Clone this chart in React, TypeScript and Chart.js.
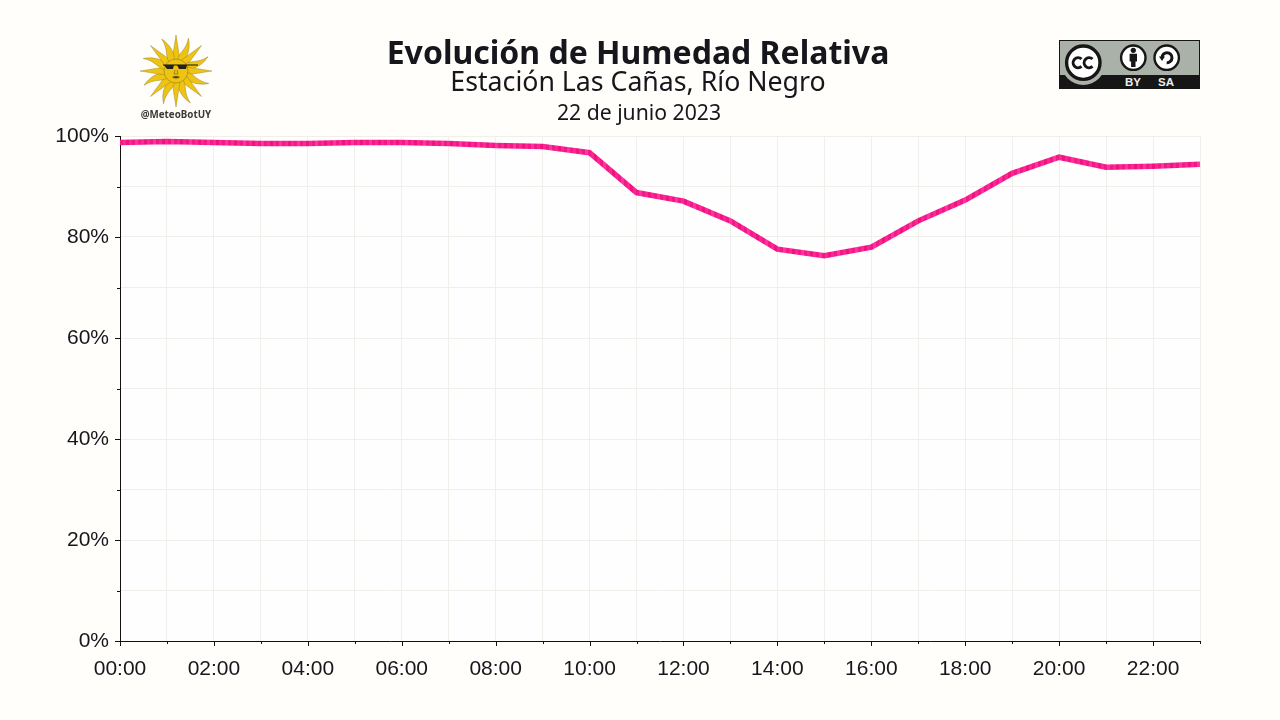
import React, { useEffect, useRef } from "react";
import Chart from "chart.js/auto";

const hours = [
  "00:00", "01:00", "02:00", "03:00", "04:00", "05:00", "06:00", "07:00",
  "08:00", "09:00", "10:00", "11:00", "12:00", "13:00", "14:00", "15:00",
  "16:00", "17:00", "18:00", "19:00", "20:00", "21:00", "22:00", "23:00",
];
const humidity = [
  98.7, 98.9, 98.7, 98.5, 98.5, 98.7, 98.7, 98.5, 98.1, 97.9, 96.7, 88.8,
  87.1, 83.2, 77.6, 76.3, 78, 83.2, 87.3, 92.6, 95.8, 93.8, 94, 94.4,
];

const BG = "#fffefa";
const INK = "#16161d";
const GRID = "#f0efea";
const stripeColors = ["#f2127f", "#f7288f", "#f5158c", "#fb379c", "#f31a88", "#f72a92"];

// the original line has a fine banded texture
const linePattern = (ctx: CanvasRenderingContext2D) => {
  const c = document.createElement("canvas");
  c.width = stripeColors.length * 3;
  c.height = 1;
  const g = c.getContext("2d")!;
  stripeColors.forEach((col, i) => {
    g.fillStyle = col;
    g.fillRect(i * 3, 0, 3, 1);
  });
  return ctx.createPattern(c, "repeat");
};

// panel background and axis ticks (long on labelled ticks, short on the others)
const panelPlugin = {
  id: "panel",
  beforeDraw(chart: any) {
    const { ctx, chartArea: a } = chart;
    ctx.save();
    ctx.fillStyle = "#fffeff";
    ctx.fillRect(a.left, a.top, a.right - a.left, a.bottom - a.top);
    ctx.restore();
  },
  afterDraw(chart: any) {
    const { ctx, chartArea: a, scales } = chart;
    ctx.save();
    ctx.strokeStyle = "#111";
    ctx.lineWidth = 1;
    ctx.beginPath();
    scales.x.ticks.forEach((t: any, i: number) => {
      const px = Math.round(scales.x.getPixelForTick(i)) + 0.5;
      ctx.moveTo(px, a.bottom);
      ctx.lineTo(px, a.bottom + (i % 2 === 0 ? 5 : 3));
    });
    scales.y.ticks.forEach((t: any) => {
      const py = Math.round(scales.y.getPixelForValue(t.value)) + 0.5;
      ctx.moveTo(a.left, py);
      ctx.lineTo(a.left - (t.value % 20 === 0 ? 5 : 3), py);
    });
    ctx.stroke();
    ctx.restore();
  },
};

const rayAngles = Array.from({ length: 16 }, (_, i) => i * 22.5);

const Sun = () => (
  <svg width={76} height={76} viewBox="-38 -38 76 76" style={{ position: "absolute", left: 138, top: 33 }}>
    {rayAngles.map((a, i) =>
      i % 2 === 0 ? (
        <path key={a} d="M-4 -11 L0 -36 L4 -11 Z" transform={`rotate(${a})`} fill="#eec311" stroke="#8a7a30" strokeWidth={0.4} />
      ) : (
        <path key={a} d="M-3 -11 C-4.5 -18 1.5 -23 -1 -35 C4.5 -27 5.5 -18 3 -11 Z" transform={`rotate(${a})`} fill="#eec311" stroke="#8a7a30" strokeWidth={0.4} />
      )
    )}
    <circle r={12} fill="#eec311" stroke="#8a741a" strokeWidth={0.5} />
    <path d="M-13 -6 H22" stroke="#111" strokeWidth={1} />
    <path d="M-12 -6 H-2 L-3 -2 H-9 Z M1 -6 H11 L10 -2 H3 Z" fill="#222" />
    <path d="M-1 -1 L-2 3 H2 L1 -1" fill="none" stroke="#6b5a12" strokeWidth={0.6} />
    <path d="M-4 6 Q0 4 4 6 Q0 9 -4 6 Z" fill="#5c4c10" />
  </svg>
);

const CcBadge = () => (
  <svg width={141} height={49} viewBox="0 0 141 49" style={{ position: "absolute", left: 1059, top: 40 }}>
    <rect x={0} y={0} width={141} height={49} fill="#161616" />
    <rect x={1} y={1} width={139} height={34} fill="#aab1a9" />
    <circle cx={24.3} cy={23} r={22} fill="#aab1a9" />
    <circle cx={24.3} cy={22.7} r={16.7} fill="#fff" stroke="#161616" strokeWidth={3.4} />
    <path d="M22.5 19 A5 5 0 1 0 22.5 26.4 M33.5 19 A5 5 0 1 0 33.5 26.4" fill="none" stroke="#161616" strokeWidth={3} />
    <circle cx={74.3} cy={17.7} r={12.2} fill="#fff" stroke="#161616" strokeWidth={2.4} />
    <circle cx={74.3} cy={10.3} r={2.6} fill="#161616" />
    <path d="M70.6 13.8 H78 V21.5 H76.5 V27 H72.1 V21.5 H70.6 Z" fill="#161616" />
    <circle cx={107.7} cy={17.7} r={12.2} fill="#fff" stroke="#161616" strokeWidth={2.4} />
    <path d="M103 17.7 A5 5 0 1 1 107.7 22.7" fill="none" stroke="#161616" strokeWidth={3} />
    <path d="M100 16.5 H106 L103 21 Z" fill="#161616" />
    <text x={74} y={45.5} textAnchor="middle" fontFamily="'Liberation Sans'" fontWeight="bold" fontSize={11.5} fill="#eee">BY</text>
    <text x={107} y={45.5} textAnchor="middle" fontFamily="'Liberation Sans'" fontWeight="bold" fontSize={11.5} fill="#eee">SA</text>
  </svg>
);

const heading = (top: number, size: number, weight: number): React.CSSProperties => ({
  position: "absolute",
  left: 0,
  width: 1276,
  top,
  textAlign: "center",
  fontFamily: "'Noto Sans'",
  fontSize: size,
  fontWeight: weight,
  lineHeight: 1,
  color: INK,
});

const App: React.FC = () => {
  const chartRef = useRef<HTMLCanvasElement>(null);

  useEffect(() => {
    if (!chartRef.current) return;
    const pattern = linePattern(chartRef.current.getContext("2d")!);
    const myChart = new Chart(chartRef.current, {
      type: "line",
      data: {
        labels: hours,
        datasets: [
          {
            data: humidity,
            borderColor: pattern,
            borderWidth: 5.5,
            pointRadius: 0,
            tension: 0,
            borderJoinStyle: "miter",
          },
        ],
      },
      options: {
        animation: false,
        responsive: false,
        layout: { padding: { top: 136, right: 80, left: 0, bottom: 0 } },
        plugins: { legend: { display: false }, tooltip: { enabled: false } },
        scales: {
          x: {
            afterFit: (s: any) => { s.height = 79; },
            offset: false,
            border: { color: "#111", width: 1 },
            grid: { color: GRID, drawTicks: false },
            ticks: {
              autoSkip: false,
              maxRotation: 0,
              padding: 16,
              color: INK,
              font: { family: "'Liberation Sans'", size: 21 },
              callback: (_v: any, i: number) => (i % 2 === 0 ? hours[i] : ""),
            },
          },
          y: {
            min: 0,
            max: 100,
            afterFit: (s: any) => { s.width = 120; },
            border: { color: "#111", width: 1 },
            grid: { color: GRID, drawTicks: false },
            ticks: {
              stepSize: 10,
              padding: 11,
              color: INK,
              font: { family: "'Liberation Sans'", size: 21 },
              callback: (v: any) => (v % 20 === 0 ? `${v}%` : ""),
            },
          },
        },
      },
      plugins: [panelPlugin],
    } as any);

    return () => {
      myChart.destroy();
    };
  }, []);

  return (
    <div style={{ position: "fixed", left: 0, top: 0, width: 1280, height: 720, background: BG, overflow: "hidden" }}>
      <canvas ref={chartRef} width={1280} height={720} style={{ position: "absolute", left: 0, top: 0 }} />
      <div style={heading(36, 32, 700)}>Evolución de Humedad Relativa</div>
      <div style={heading(68, 26.7, 400)}>Estación Las Cañas, Río Negro</div>
      <div style={{ ...heading(101, 21.2, 400), width: 1278 }}>22 de junio 2023</div>
      <Sun />
      <div style={{ position: "absolute", left: 116, width: 120, top: 109, textAlign: "center", fontFamily: "'Noto Sans'", fontWeight: 700, fontSize: 9.8, lineHeight: 1.2, color: "#3a3a3a" }}>
        @MeteoBotUY
      </div>
      <CcBadge />
    </div>
  );
};

export default App;
